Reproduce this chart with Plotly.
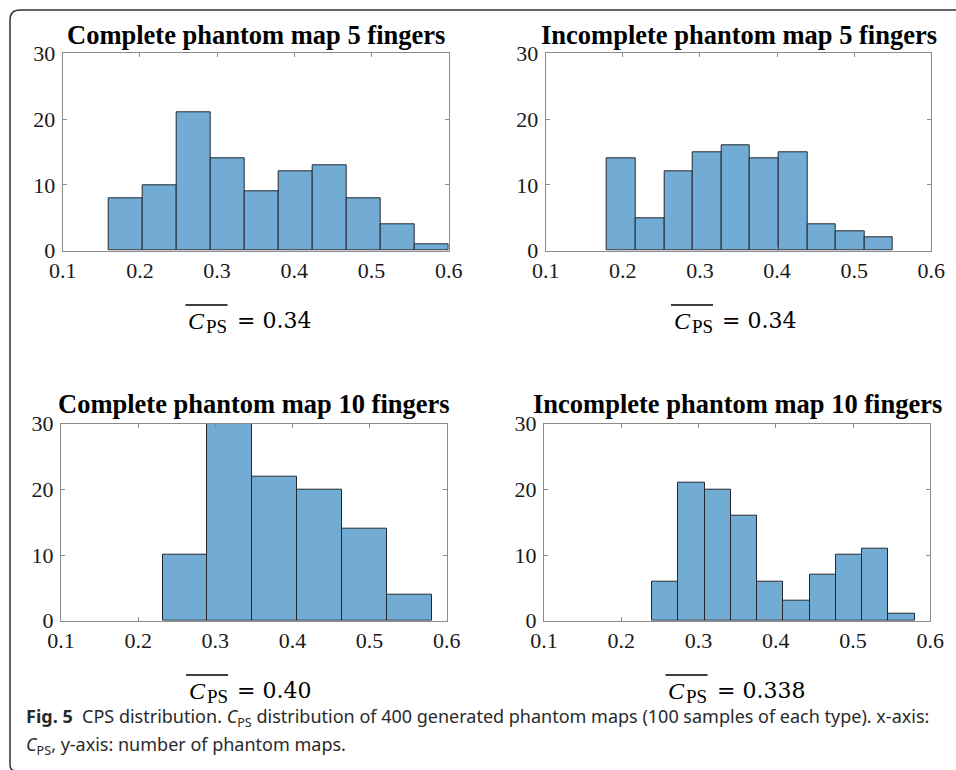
import plotly.graph_objects as go

# ---------------- data ----------------
titles = [
    "Complete phantom map 5 fingers",
    "Incomplete phantom map 5 fingers",
    "Complete phantom map 10 fingers",
    "Incomplete phantom map 10 fingers",
]
counts_complete_5 = [8, 10, 21, 14, 9, 12, 13, 8, 4, 1]
counts_incomplete_5 = [14, 5, 12, 15, 16, 14, 15, 4, 3, 2]
counts_complete_10 = [10, 30, 22, 20, 14, 4]
counts_incomplete_10 = [6, 21, 20, 16, 6, 3, 7, 10, 11, 1]

bin_start = [0.1600, 0.1795, 0.2318, 0.2398]
bin_width = [0.0440, 0.0371, 0.0581, 0.0340]

mean_labels = ["0.34", "0.34", "0.40", "0.338"]
x_ticks = [0.1, 0.2, 0.3, 0.4, 0.5, 0.6]
y_ticks = [0, 10, 20, 30]

caption_line1 = ("<b>Fig. 5</b>  CPS distribution. <i>C</i><sub>PS</sub> distribution of 400 generated "
                 "phantom maps (100 samples of each type). x-axis:")
caption_line2 = "<i>C</i><sub>PS</sub>, y-axis: number of phantom maps."

all_counts = [counts_complete_5, counts_incomplete_5, counts_complete_10, counts_incomplete_10]

# ---------------- layout geometry (pixels) ----------------
W, H = 956, 770
panels_px = [  # x0, x1, ytop, ybottom
    (62.7, 448.7, 53.3, 250.7),
    (545.7, 931.3, 53.3, 250.7),
    (61.0, 446.7, 423.7, 620.7),
    (544.0, 930.3, 423.7, 620.7),
]
title_y_px = [35, 35, 404, 404]
eq_x_px = [185.5, 671.0, 186.0, 665.5]   # left end of the overline
eq_y_px = [320.5, 320.5, 690.5, 690.5]   # centre of the "C" / digits

FILL = "rgb(114,171,212)"
EDGE = "rgb(35,40,48)"
AXIS = "rgb(140,140,140)"
SERIF = "Liberation Serif"
MATH = "DejaVu Serif"


def px(x):
    return x / W


def py(y):
    return 1 - y / H


fig = go.Figure()
annotations = []
shapes = []


def note(x, y, text, font, size, anchor="left"):
    annotations.append(dict(
        x=px(x), y=py(y), xref="paper", yref="paper", text=text, showarrow=False,
        xanchor=anchor, yanchor="middle", borderpad=0,
        font=dict(family=font, size=size, color="black"),
    ))


for i, counts in enumerate(all_counts):
    n = i + 1
    xa = "x" if n == 1 else f"x{n}"
    ya = "y" if n == 1 else f"y{n}"
    centers = [bin_start[i] + (k + 0.5) * bin_width[i] for k in range(len(counts))]
    fig.add_trace(go.Bar(
        x=centers, y=counts, width=[bin_width[i]] * len(counts),
        marker=dict(color=FILL, line=dict(color=EDGE, width=1)),
        xaxis=xa, yaxis=ya, showlegend=False, hoverinfo="x+y",
    ))
    x0, x1, yt, yb = panels_px[i]
    axis_common = dict(
        showline=True, linecolor=AXIS, linewidth=1, mirror="ticks",
        ticks="inside", ticklen=4, tickcolor=AXIS, tickwidth=1,
        showgrid=False, zeroline=False, automargin=False,
        tickfont=dict(family=SERIF, size=22, color="#1a1a1a"),
    )
    fig.update_layout({
        ("xaxis" if n == 1 else f"xaxis{n}"): dict(
            domain=[px(x0), px(x1)], anchor=ya, range=[0.1, 0.6],
            tickvals=x_ticks, ticktext=[f"{v:.1f}" for v in x_ticks],
            **axis_common),
        ("yaxis" if n == 1 else f"yaxis{n}"): dict(
            domain=[py(yb), py(yt)], anchor=xa, range=[0, 30],
            tickvals=y_ticks, ticklabelstandoff=2, **axis_common),
    })
    # panel title
    note((x0 + x1) / 2, title_y_px[i], f"<b>{titles[i]}</b>", SERIF, 26.5, anchor="center")

    # mean value:  overline(C_PS) = value
    ex, ey = eq_x_px[i], eq_y_px[i]
    note(ex + 1.5, ey, "<i>C</i>", SERIF, 24)
    note(ex + 19.5, ey + 6.0, "PS", SERIF, 19)
    note(ex + 50.0, ey, f"= {mean_labels[i]}", MATH, 22)
    shapes.append(dict(
        type="line", xref="paper", yref="paper",
        x0=px(ex), x1=px(ex + 42), y0=py(ey - 15.5), y1=py(ey - 15.5),
        line=dict(color="black", width=1.3),
    ))

# caption
for line_text, line_y in ((caption_line1, 717), (caption_line2, 745)):
    annotations.append(dict(
        x=px(25), y=py(line_y), xref="paper", yref="paper", text=line_text,
        showarrow=False, xanchor="left", yanchor="middle", align="left", borderpad=0,
        font=dict(family="Noto Sans", size=18, color="#2a2a2a"),
    ))

# rounded frame (top and left edges visible)
r = 10
frame_path = (
    f"M {px(16)},{py(771)} Q {px(10)},{py(771)} {px(10)},{py(765)} "
    f"L {px(10)},{py(10 + r)} Q {px(10)},{py(10)} {px(10 + r)},{py(10)} "
    f"L {px(960)},{py(10)}"
)
shapes.append(dict(type="path", xref="paper", yref="paper", path=frame_path,
                   line=dict(color="#333", width=1.5)))

fig.update_layout(
    width=W, height=H, margin=dict(l=0, r=0, t=0, b=0, autoexpand=False),
    paper_bgcolor="white", plot_bgcolor="white",
    annotations=annotations, shapes=shapes, bargap=0,
)

page_fix = "document.body.style.margin='0'; document.body.style.overflow='hidden';"
fig.write_html("out.html", post_script=page_fix, config={"displayModeBar": False})
